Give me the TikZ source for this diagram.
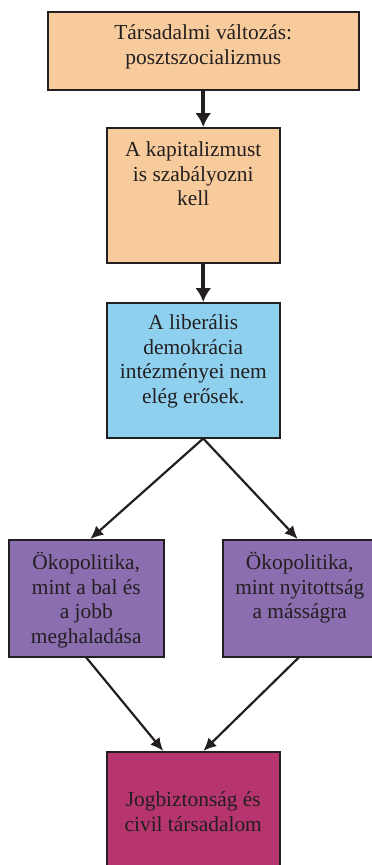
\documentclass[tikz,border=0pt]{standalone}
\usepackage{fontspec}
\setmainfont{Liberation Serif}
\newfontfamily\boxfont{Liberation Serif}
\usepackage{tikz}
\usetikzlibrary{arrows.meta}
\definecolor{boxorange}{RGB}{248,203,156}
\definecolor{boxblue}{RGB}{142,208,238}
\definecolor{boxpurple}{RGB}{138,110,176}
\definecolor{boxmagenta}{RGB}{183,53,110}
\definecolor{boxedge}{RGB}{35,31,32}
\tikzstyle{box}=[draw=boxedge, line width=1.5pt, inner sep=0pt, anchor=north west, text=boxedge, font=\boxfont\fontsize{21.4}{24.5}\selectfont]
\tikzstyle{thickarr}=[-{Latex[length=14pt, width=16pt]}, draw=boxedge, line width=4pt]
\tikzstyle{thinarr}=[-{Latex[length=13pt, width=12pt]}, draw=boxedge, line width=2.2pt]
\newcommand{\boxtext}[4]{\parbox[c][#2][t]{#1}{\centering\rule{0pt}{#3}#4}}

\begin{document}
\begin{tikzpicture}[x=1pt, y=-1pt]
\useasboundingbox (0,0) rectangle (372,865);
\node[box, fill=boxorange] at (47,11) (tars) {\boxtext{311pt}{78pt}{28pt}{Társadalmi változás:\\ posztszocializmus}};
\node[box, fill=boxorange] at (106,127) (kapit) {\boxtext{173pt}{135pt}{29pt}{A kapitalizmust\\ is szabályozni\\ kell}};
\node[box, fill=boxblue] at (106,302) (liber) {\boxtext{173pt}{135pt}{27pt}{A liberális\\ demokrácia\\ intézményei nem\\ elég erősek.}};
\node[box, fill=boxpurple] at (8,539) (okobal) {\boxtext{155pt}{117pt}{30pt}{Ökopolitika,\\ mint a bal és\\ a jobb\\ meghaladása}};
\node[box, fill=boxpurple] at (222,539) (okonyit) {\boxtext{154pt}{117pt}{30pt}{Ökopolitika,\\ mint nyitottság\\ a másságra}};
\node[box, fill=boxmagenta] at (106,751) (jog) {\boxtext{173pt}{120pt}{55pt}{Jogbiztonság és\\ civil társadalom}};
\draw[thickarr] (tars.south) -- (tars.south |- kapit.north);
\draw[thickarr] (tars.south |- kapit.south) -- (tars.south |- liber.north);
\draw[thinarr] (tars.south |- liber.south) -- ([xshift=4pt]okobal.north);
\draw[thinarr] (tars.south |- liber.south) -- ([xshift=-2pt]okonyit.north);
\draw[thinarr] (okobal.south) -- ([xshift=-30pt]jog.north);
\draw[thinarr] ([xshift=-1pt]okonyit.south) -- ([xshift=10pt]jog.north);
\end{tikzpicture}
\end{document}
